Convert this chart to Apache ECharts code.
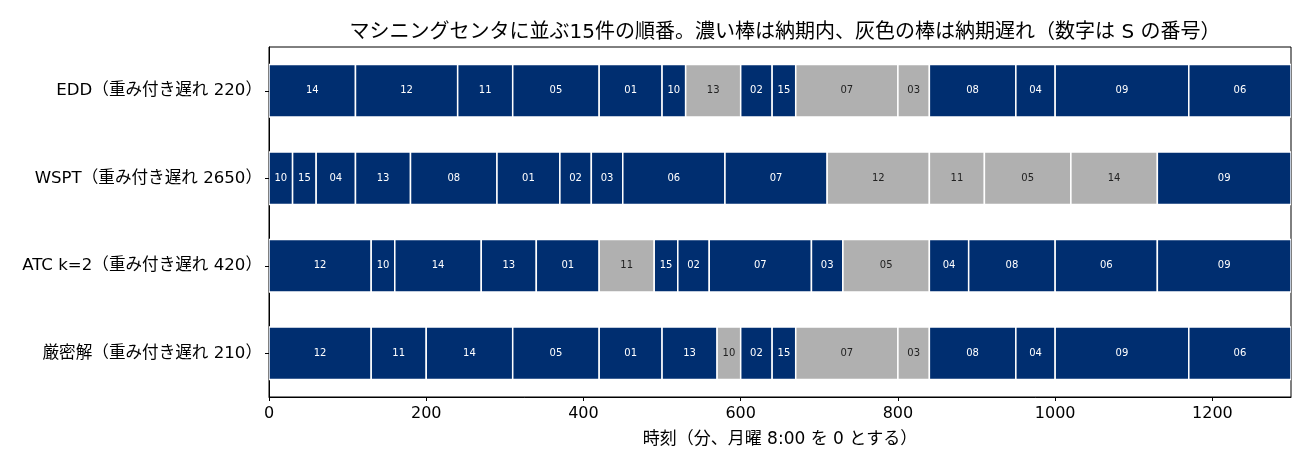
<!DOCTYPE html>
<html>
<head>
<meta charset="utf-8">
<script src="https://cdn.jsdelivr.net/npm/echarts@6/dist/echarts.min.js"></script>
<style>
  html, body { margin: 0; padding: 0; background: #fff; }
  #chart { width: 1313px; height: 469px; }
</style>
</head>
<body>
<div id="chart"></div>
<script>
// rows, top to bottom
var ruleNames = [
    'EDD（重み付き遅れ 220）',
    'WSPT（重み付き遅れ 2650）',
    'ATC k=2（重み付き遅れ 420）',
    '厳密解（重み付き遅れ 210）'
];

// processing time of each job (minutes)
var jobIds     = ['01','02','03','04','05','06','07','08','09','10','11','12','13','14','15'];
var jobMinutes = [80, 40, 40, 50, 110, 130, 130, 110, 170, 30, 70, 130, 70, 110, 30];

// job order for each rule
var seqEDD   = ['14','12','11','05','01','10','13','02','15','07','03','08','04','09','06'];
var seqWSPT  = ['10','15','04','13','08','01','02','03','06','07','12','11','05','14','09'];
var seqATC   = ['12','10','14','13','01','11','15','02','07','03','05','04','08','06','09'];
var seqExact = ['12','11','14','05','01','13','10','02','15','07','03','08','04','09','06'];

// late jobs (grey) for each rule
var lateEDD   = ['13','07','03'];
var lateWSPT  = ['12','11','05','14'];
var lateATC   = ['11','05'];
var lateExact = ['10','07','03'];

var xTicks = { min: 0, max: 1300, interval: 200 };

var sequences = [seqEDD, seqWSPT, seqATC, seqExact];
var lateLists = [lateEDD, lateWSPT, lateATC, lateExact];

var onTimeColor = '#002e70';
var lateColor = '#b0b0b0';
var fontFamily = '"DejaVu Sans", "Noto Sans CJK JP", sans-serif';

// build [row, start, end, late] items; labels kept aside as strings
var ganttData = [];
var ganttLabels = [];
sequences.forEach(function (seq, row) {
    var t = 0;
    seq.forEach(function (job) {
        var d = jobMinutes[jobIds.indexOf(job)];
        var late = lateLists[row].indexOf(job) >= 0 ? 1 : 0;
        ganttData.push([row, t, t + d, late]);
        ganttLabels.push(job);
        t += d;
    });
});

function renderBar(params, api) {
    var row = api.value(0);
    var p0 = api.coord([api.value(1), row]);
    var p1 = api.coord([api.value(2), row]);
    var h = api.size([0, 1])[1] * 0.6;
    var late = api.value(3) === 1;
    return {
        type: 'rect',
        shape: { x: p0[0], y: p0[1] - h / 2, width: p1[0] - p0[0], height: h },
        style: {
            fill: late ? lateColor : onTimeColor,
            stroke: '#ffffff',
            lineWidth: 1.5
        },
        textContent: {
            style: {
                text: ganttLabels[params.dataIndex],
                fill: late ? '#222222' : '#ffffff',
                fontSize: 10,
                fontFamily: fontFamily
            }
        },
        textConfig: { position: 'inside' }
    };
}

var chart = echarts.init(document.getElementById('chart'));

var option = {
    animation: false,
    backgroundColor: '#ffffff',
    title: {
        text: 'マシニングセンタに並ぶ15件の順番。濃い棒は納期内、灰色の棒は納期遅れ（数字は S の番号）',
        left: 780,
        textAlign: 'center',
        top: 18,
        textStyle: { fontSize: 20, fontWeight: 'normal', color: '#000', fontFamily: fontFamily }
    },
    grid: {
        left: 269, right: 22, top: 47, bottom: 72,
        show: true, borderColor: '#000', borderWidth: 1, backgroundColor: 'transparent'
    },
    xAxis: {
        type: 'value',
        min: xTicks.min,
        max: xTicks.max,
        interval: xTicks.interval,
        name: '時刻（分、月曜 8:00 を 0 とする）',
        nameLocation: 'middle',
        nameGap: 34,
        nameTextStyle: { fontSize: 17, color: '#000', fontFamily: fontFamily },
        axisLine: { show: true, lineStyle: { color: '#000', width: 1 } },
        axisTick: { show: true, length: 4, lineStyle: { color: '#000' } },
        axisLabel: {
            fontSize: 16, color: '#000', margin: 9, showMaxLabel: false, fontFamily: fontFamily,
            formatter: function (v) { return String(v); }
        },
        splitLine: { show: false }
    },
    yAxis: {
        type: 'category',
        data: ruleNames,
        inverse: true,
        axisLine: { show: true, lineStyle: { color: '#000', width: 1 } },
        axisTick: { show: true, length: 4, alignWithLabel: true, lineStyle: { color: '#000' } },
        axisLabel: { fontSize: 16.6, color: '#000', margin: 7, fontFamily: fontFamily },
        splitLine: { show: false }
    },
    series: [{
        type: 'custom',
        renderItem: renderBar,
        encode: { x: [1, 2], y: 0 },
        data: ganttData,
        clip: true
    }]
};

chart.setOption(option);
</script>
</body>
</html>
